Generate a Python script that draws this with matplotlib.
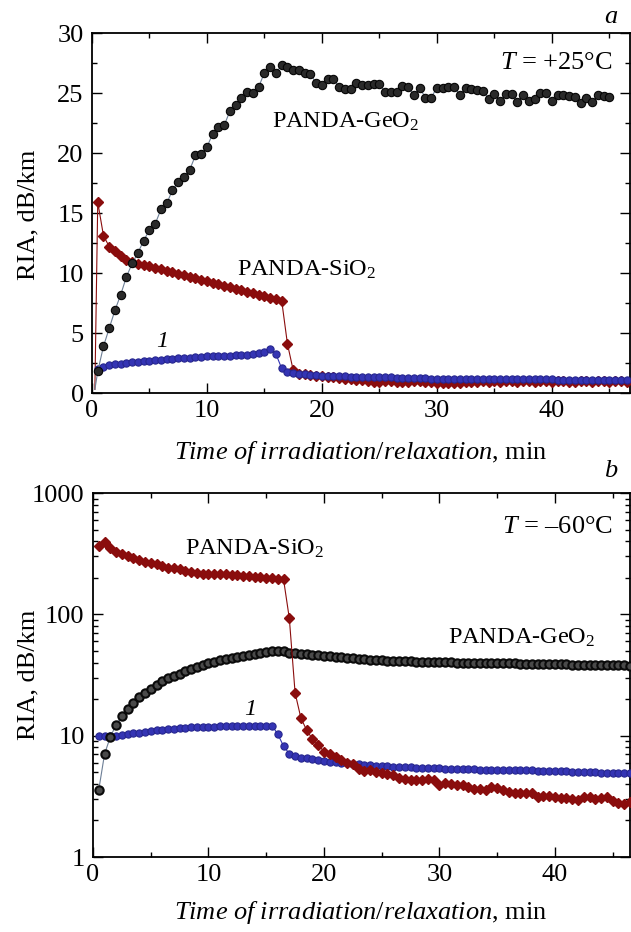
import numpy as np
import matplotlib
matplotlib.use("Agg")
import matplotlib.pyplot as plt
from matplotlib.ticker import MultipleLocator, FixedLocator, FixedFormatter, LogLocator, NullFormatter

plt.rcParams['font.family'] = ['Liberation Serif', 'DejaVu Serif']
plt.rcParams['mathtext.fontset'] = 'custom'
plt.rcParams['mathtext.rm'] = 'Liberation Serif'
plt.rcParams['mathtext.it'] = 'Liberation Serif:italic'
plt.rcParams['mathtext.bf'] = 'Liberation Serif:bold'

# ---------------- data ----------------
# sampling times (min): measurements every 0.5 min from 0.5 min
t_step = 0.5
t_first = 0.5
t_start_line = 0.25  # start of the line before the first marker (panel a)

# Panel a, T = +25 C
geo_a = [0.3,
         1.8, 3.9, 5.4, 6.9, 8.2, 9.7, 10.8, 11.7, 12.7, 13.6,
         14.1, 15.3, 15.8, 16.9, 17.6, 18.0, 18.6, 19.8, 19.9, 20.5,
         21.6, 22.2, 22.3, 23.5, 24.0, 24.6, 25.1, 25.0, 25.5, 26.7,
         27.2, 26.7, 27.3, 27.2, 26.9, 26.9, 26.7, 26.6, 25.8, 25.7,
         26.2, 26.2, 25.5, 25.3, 25.3, 25.8,
         25.7, 25.7, 25.75, 25.75, 25.1, 25.1, 25.1, 25.6, 25.5, 24.8,
         25.45, 24.6, 24.6, 25.45, 25.45, 25.5, 25.5, 24.85, 25.45, 25.3,
         25.25, 25.2, 24.5, 24.9, 24.35, 24.9, 24.9, 24.25, 24.8, 24.35,
         24.5, 25.0, 25.0, 24.3, 24.8, 24.8, 24.75, 24.7, 24.15, 24.6,
         24.25, 24.8, 24.75, 24.7]

sio_a = [0.3,
         15.9, 13.1, 12.2, 11.8, 11.4, 11.1, 10.95,
         10.75, 10.65, 10.55, 10.45, 10.3, 10.2, 10.05, 9.95, 9.8, 9.7,
         9.55, 9.45, 9.3, 9.2, 9.05, 8.95, 8.8, 8.7, 8.55, 8.45,
         8.3, 8.2, 8.05, 7.95, 7.85, 7.7,
         4.1, 1.9, 1.6,
         1.55, 1.5, 1.45, 1.4, 1.35, 1.3, 1.25, 1.2, 1.15, 1.1,
         1.05, 1.0, 0.95, 0.95, 1.0, 1.0, 0.95, 0.9, 0.95, 1.0,
         1.0, 0.95, 0.9, 0.85, 0.8, 0.85, 0.8, 0.85, 0.9, 0.9,
         0.95, 1.0, 0.95, 1.0, 0.95, 1.0, 1.0, 0.95, 1.0, 1.0,
         0.95, 1.0, 1.0, 0.95, 1.0, 1.0, 0.95, 0.95, 1.0, 1.0,
         0.95, 1.0, 1.0, 0.95, 1.0, 1.0, 0.95]

fib1_a = [2.0, 2.2, 2.3, 2.4, 2.45, 2.5, 2.55, 2.6, 2.65, 2.7,
          2.72, 2.75, 2.8, 2.85, 2.9, 2.92, 2.95, 3.0, 3.0, 3.05,
          3.05, 3.1, 3.1, 3.12, 3.15, 3.2, 3.2, 3.25, 3.3, 3.45,
          3.7, 3.25, 2.05, 1.75, 1.65, 1.6,
          1.55, 1.5, 1.5, 1.45, 1.45, 1.4, 1.4, 1.4, 1.35, 1.35,
          1.35, 1.3, 1.3, 1.3, 1.3, 1.3, 1.25, 1.25, 1.25, 1.25,
          1.25, 1.25, 1.2, 1.2, 1.2, 1.2, 1.2, 1.2, 1.2, 1.2,
          1.2, 1.2, 1.2, 1.2, 1.15, 1.15, 1.15, 1.15, 1.15, 1.15,
          1.15, 1.15, 1.15, 1.15, 1.1, 1.1, 1.1, 1.1, 1.1, 1.1,
          1.1, 1.1, 1.1, 1.1, 1.1, 1.1, 1.1]

# Panel b, T = -60 C
geo_b = [3.58, 7.06, 9.76, 12.3, 14.4, 16.7, 18.6, 20.7, 22.5, 24.3,
         26.4, 28.1, 30.0, 31.3, 32.5, 34.0, 35.6, 37.0, 38.1, 39.4,
         40.6, 41.7, 42.7, 43.9, 44.7, 45.6, 46.5, 47.3, 48.3, 48.8,
         49.4, 49.7, 49.4, 48.3, 47.9, 47.5,
         47.0, 46.6, 46.2, 45.7, 45.2, 44.7, 44.2, 43.8, 43.4, 43.0,
         42.7, 42.4, 42.1, 41.9, 41.6, 41.4, 41.2, 41.0, 40.9, 40.7,
         40.6, 40.5, 40.4, 40.3, 40.2, 40.1, 40.0, 39.9, 39.8, 39.8,
         39.7, 39.6, 39.6, 39.5, 39.5, 39.4, 39.4, 39.3, 39.3, 39.2,
         39.1, 39.0, 38.9, 38.8, 38.7, 38.6, 38.5, 38.4, 38.3, 38.2,
         38.2, 38.1, 38.0, 38.0, 37.9, 37.9, 37.8]

sio_b = [367, 392, 349, 327, 313, 300, 289, 279, 270, 264,
         259, 251, 243, 239, 236, 228, 224, 218, 217, 217,
         217, 214, 214, 211, 210, 207, 207, 205, 204, 201,
         199, 197, 194,
         92.7, 22.5, 14.0, 11.1, 9.4, 8.4, 7.4, 7.0, 6.7, 6.3, 6.0, 5.8, 5.3,
         5.1, 5.2, 5.0, 4.9, 4.8, 4.7, 4.45, 4.4, 4.35, 4.35,
         4.3, 4.4, 4.3, 3.95, 4.1, 4.0, 3.95, 3.9, 3.8, 3.65,
         3.65, 3.6, 3.75, 3.7, 3.55, 3.45, 3.35, 3.4, 3.4, 3.35,
         3.15, 3.2, 3.18, 3.1, 3.05, 3.05, 3.0, 2.95, 3.1, 3.15,
         3.0, 3.05, 3.15, 2.9, 2.8, 2.75, 2.85]

fib1_b = [10.0, 9.9, 9.9, 10.0, 10.1, 10.3, 10.5, 10.6, 10.8, 10.9,
          11.1, 11.2, 11.3, 11.4, 11.5, 11.6, 11.7, 11.75, 11.8, 11.85,
          11.9, 11.95, 12.0, 12.0, 12.05, 12.1, 12.1, 12.1, 12.1, 12.1,
          12.1, 10.3, 8.2, 7.1, 6.75, 6.6,
          6.5, 6.4, 6.3, 6.2, 6.1, 6.05, 6.0, 5.9, 5.85, 5.8,
          5.75, 5.7, 5.65, 5.6, 5.58, 5.55, 5.52, 5.5, 5.48, 5.45,
          5.43, 5.42, 5.4, 5.38, 5.36, 5.34, 5.32, 5.3, 5.28, 5.27,
          5.26, 5.25, 5.24, 5.23, 5.22, 5.21, 5.2, 5.19, 5.18, 5.17,
          5.16, 5.15, 5.13, 5.11, 5.09, 5.07, 5.05, 5.03, 5.01, 5.0,
          4.98, 4.96, 4.95, 4.94, 4.93, 4.92, 4.9]

top_yticks = [0, 5, 10, 15, 20, 25, 30]
bot_yticks = [1, 10, 100, 1000]
bot_yticklabels = ['1', '10', '100', '1000']
xticks = [0, 10, 20, 30, 40]

# ---------------- helpers ----------------
def times(n, with_start=False):
    t = t_first + t_step * np.arange(n)
    if with_start:
        t = np.r_[t_start_line, t_first + t_step * np.arange(n - 1)]
    return t

BLACK_LINE = '#6d7f96'
RED = '#8a0d0d'
BLUE = '#3434b4'

fig = plt.figure(figsize=(6.31, 9.32), dpi=100)
ax1 = fig.add_axes([92 / 631, 1 - 393 / 932, 538 / 631, 360 / 932])
ax2 = fig.add_axes([93 / 631, 1 - 857 / 932, 537 / 631, 364 / 932])

FS_TICK = 19
FS_LAB = 19
FS_ANN = 17.5
FS_T = 19

def style(ax):
    for s in ax.spines.values():
        s.set_linewidth(1.3)
    ax.tick_params(which='both', direction='in', top=True, right=True,
                   labelsize=FS_TICK, width=1.0)
    ax.tick_params(which='major', length=7)
    ax.tick_params(which='minor', length=3.8)
    ax.tick_params(axis='y', which='major', pad=6)
    ax.tick_params(axis='x', which='major', pad=5)
    ax.set_xticks(xticks)
    ax.xaxis.set_minor_locator(MultipleLocator(5))

# ---- panel a ----
ax = ax1
ax.plot(times(len(sio_a), True), sio_a, '-', color=RED, lw=0.8,
        marker='D', ms=5.5, mfc=RED, mec=RED, markevery=slice(1, None), zorder=3)
ax.plot(times(len(fib1_a)), fib1_a, '-', color=BLUE, lw=0.8,
        marker='o', ms=5.2, mfc=BLUE, mec='#26268f', mew=0.8, zorder=4)
ax.plot(times(len(geo_a), True), geo_a, '-', color=BLACK_LINE, lw=0.8,
        marker='o', ms=6, mfc='#2a2a2a', mec='#050505', mew=0.8,
        markevery=slice(1, None), zorder=5)
ax.set_xlim(0, 46.8)
ax.set_ylim(0, 30)
ax.set_yticks(top_yticks)
ax.yaxis.set_minor_locator(MultipleLocator(2.5))
style(ax)

ax.text(0.968, 0.917, r'$\it{T}$ = +25°C', transform=ax.transAxes,
        ha='right', va='center', fontsize=FS_T)
ax.text(15.7, 22.6, r'PANDA-GeO$_2$', ha='left', va='center', fontsize=FS_ANN)
ax.text(12.6, 10.25, r'PANDA-SiO$_2$', ha='left', va='center', fontsize=FS_ANN)
ax.text(6.1, 4.3, '1', ha='center', va='center', fontsize=FS_ANN, style='italic')

# ---- panel b ----
ax = ax2
ax.set_yscale('log')
ax.plot(times(len(fib1_b)), fib1_b, '-', color=BLUE, lw=0.8,
        marker='o', ms=5.2, mfc=BLUE, mec='#26268f', mew=0.8, zorder=3)
ax.plot(times(len(geo_b)), geo_b, '-', color=BLACK_LINE, lw=0.8,
        marker='o', ms=6, mfc='#4a4a4a', mec='#0a0a0a', mew=1.5, zorder=4)
ax.plot(times(len(sio_b)), sio_b, '-', color=RED, lw=0.8,
        marker='D', ms=5.5, mfc=RED, mec=RED, zorder=5)
ax.set_xlim(0, 46.5)
ax.set_ylim(1, 1000)
ax.yaxis.set_major_locator(FixedLocator(bot_yticks))
ax.yaxis.set_major_formatter(FixedFormatter(bot_yticklabels))
ax.yaxis.set_minor_locator(LogLocator(base=10, subs=np.arange(2, 10)))
ax.yaxis.set_minor_formatter(NullFormatter())
style(ax)

ax.text(0.968, 0.906, r'$\it{T}$ = –60°C', transform=ax.transAxes,
        ha='right', va='center', fontsize=FS_T)
ax.text(7.97, 344, r'PANDA-SiO$_2$', ha='left', va='center', fontsize=FS_ANN)
ax.text(30.7, 64.6, r'PANDA-GeO$_2$', ha='left', va='center', fontsize=FS_ANN)
ax.text(13.6, 16.4, '1', ha='center', va='center', fontsize=FS_ANN, style='italic')

# labels
for ylab_y, xlab_y in [(1 - 215 / 932, 1 - 452 / 932),
                       (1 - 675 / 932, 1 - 912 / 932)]:
    fig.text(28 / 631, ylab_y, 'RIA, dB/km', rotation=90, ha='center',
             va='center', fontsize=FS_LAB)
    fig.text(361 / 631, xlab_y, r'$\it{Time\ of\ irradiation/relaxation}$, min',
             ha='center', va='center', fontsize=FS_LAB)

fig.text(617 / 631, 1 - 17 / 932, 'a', ha='right', va='center',
         fontsize=FS_LAB, style='italic')
fig.text(617 / 631, 1 - 471 / 932, 'b', ha='right', va='center',
         fontsize=FS_LAB, style='italic')

fig.savefig('out.png', dpi=100)
